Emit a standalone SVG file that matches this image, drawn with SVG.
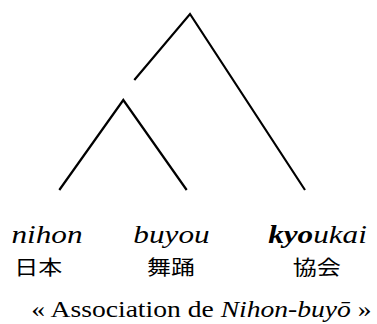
<svg xmlns="http://www.w3.org/2000/svg" width="377" height="324" viewBox="0 0 377 324">
<style>
.br{fill:none;stroke:#000;stroke-width:2.2;stroke-linecap:butt;stroke-linejoin:miter}
.rom{font-style:italic;font-size:26px;text-anchor:middle;fill:#000}
.jp{font-size:20px;text-anchor:middle;fill:#000}
.cap{font-size:23px;text-anchor:middle;fill:#000}
</style>
<rect width="377" height="324" fill="#fff"/>
<g id="connectors">
<polyline class="br" points="134.3,80 190,14 305,190"/>
<polyline class="br" points="59.3,190 123.3,100 186.7,190"/>
</g>
<g transform="scale(1.2,1)" font-family="Liberation Serif, serif">
<g id="nihon">
<text class="rom" x="39.2" y="243">nihon</text>
<text class="jp" x="31.9" y="275" font-family="Noto Sans CJK JP, sans-serif">日本</text>
</g>
<g id="buyou">
<text class="rom" x="142.9" y="243">buyou</text>
<text class="jp" x="142.5" y="275" font-family="Noto Sans CJK JP, sans-serif">舞踊</text>
</g>
<g id="kyoukai">
<text class="rom" x="264.6" y="243"><tspan font-weight="bold">kyo</tspan>ukai</text>
<text class="jp" x="263.9" y="275" font-family="Noto Sans CJK JP, sans-serif">協会</text>
</g>
<g id="caption">
<text class="cap" x="167.9" y="317">« Association de <tspan font-style="italic">Nihon-buyō</tspan> »</text>
</g>
</g>
</svg>
